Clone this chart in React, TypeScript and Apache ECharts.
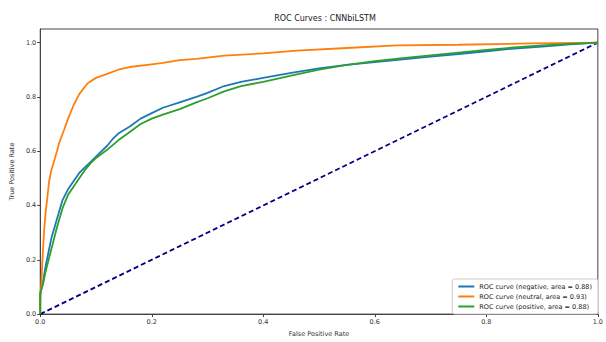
import React, { useEffect, useRef } from "react";
import * as echarts from "echarts";

const title = "ROC Curves : CNNbiLSTM";
const xName = "False Positive Rate";
const yName = "True Positive Rate";
const tickValues = [0, 0.2, 0.4, 0.6, 0.8, 1.0];

const seriesNames = [
  "ROC curve (negative, area = 0.88)",
  "ROC curve (neutral, area = 0.93)",
  "ROC curve (positive, area = 0.88)",
];

const negativeRoc: number[][] = [
  [0, 0], [0, 0.07], [0.005, 0.12], [0.01, 0.18], [0.015, 0.23], [0.02, 0.28], [0.03, 0.35],
  [0.04, 0.42], [0.05, 0.46], [0.06, 0.49], [0.07, 0.52], [0.08, 0.54], [0.09, 0.56], [0.1, 0.58],
  [0.11, 0.6], [0.12, 0.62], [0.13, 0.645], [0.14, 0.665], [0.16, 0.69], [0.18, 0.72], [0.2, 0.74],
  [0.22, 0.76], [0.25, 0.78], [0.28, 0.8], [0.3, 0.815], [0.33, 0.84], [0.36, 0.855], [0.4, 0.87],
  [0.45, 0.888], [0.5, 0.905], [0.55, 0.918], [0.6, 0.928], [0.65, 0.938], [0.7, 0.948], [0.75, 0.958],
  [0.8, 0.968], [0.85, 0.978], [0.9, 0.985], [0.95, 0.993], [1, 1],
];

const neutralRoc: number[][] = [
  [0, 0], [0, 0.05], [0.002, 0.11], [0.004, 0.2], [0.007, 0.31], [0.01, 0.38], [0.016, 0.49],
  [0.02, 0.53], [0.03, 0.6], [0.034, 0.63], [0.043, 0.68], [0.05, 0.72], [0.06, 0.77], [0.07, 0.81],
  [0.085, 0.85], [0.1, 0.87], [0.12, 0.885], [0.14, 0.9], [0.16, 0.91], [0.2, 0.92], [0.22, 0.925],
  [0.25, 0.935], [0.28, 0.94], [0.33, 0.952], [0.4, 0.96], [0.46, 0.97], [0.55, 0.98], [0.64, 0.99],
  [0.75, 0.992], [0.88, 0.997], [1, 1],
];

const positiveRoc: number[][] = [
  [0, 0], [0, 0.08], [0.005, 0.11], [0.01, 0.16], [0.02, 0.24], [0.03, 0.32], [0.04, 0.39],
  [0.05, 0.44], [0.06, 0.47], [0.07, 0.5], [0.08, 0.53], [0.09, 0.555], [0.1, 0.575], [0.12, 0.605],
  [0.14, 0.64], [0.16, 0.67], [0.18, 0.7], [0.2, 0.72], [0.22, 0.735], [0.25, 0.755], [0.28, 0.78],
  [0.3, 0.795], [0.33, 0.82], [0.36, 0.84], [0.4, 0.855], [0.45, 0.878], [0.5, 0.9], [0.55, 0.918],
  [0.6, 0.932], [0.65, 0.943], [0.7, 0.953], [0.75, 0.963], [0.8, 0.973], [0.85, 0.982], [0.9, 0.99],
  [0.95, 0.995], [1, 1],
];

const diagonal: number[][] = [[0, 0], [1, 1]];

const colors = ["#1f77b4", "#ff7f0e", "#2ca02c"];

export default function App() {
  const ref = useRef<HTMLDivElement>(null);
  useEffect(() => {
    if (!ref.current) return;
    const chart = echarts.init(ref.current, undefined, { renderer: "svg" });
    const font = "DejaVu Sans";
    const axisCommon = {
      axisLine: { show: true, lineStyle: { color: "#444", width: 1 } },
      axisTick: { show: true, customValues: tickValues, length: 3, lineStyle: { color: "#444" } },
      axisLabel: {
        customValues: tickValues,
        fontSize: 6.5,
        color: "#333",
        fontFamily: font,
        formatter: (v: number) => v.toFixed(1),
      },
      splitLine: { show: false },
    };
    const mk = (name: string, data: number[][], color: string) => ({
      name,
      type: "line",
      data,
      showSymbol: false,
      symbol: "none",
      lineStyle: { color, width: 1.8 },
      itemStyle: { color },
      z: 3,
    });
    chart.setOption({
      animation: false,
      backgroundColor: "#fff",
      title: {
        text: title,
        left: 320,
        textAlign: "center",
        top: 9,
        textStyle: { fontSize: 8, fontWeight: "normal", color: "#222", fontFamily: font },
      },
      grid: {
        left: 39,
        right: 5,
        top: 29,
        bottom: 22,
        show: true,
        borderColor: "#444",
        borderWidth: 1,
        backgroundColor: "transparent",
      },
      xAxis: {
        type: "value",
        min: 0,
        max: 1,
        interval: 0.2,
        name: xName,
        nameLocation: "middle",
        nameGap: 13,
        nameTextStyle: { fontSize: 6.5, color: "#333", fontFamily: font },
        ...axisCommon,
        axisLabel: { ...axisCommon.axisLabel, margin: 4 },
      },
      yAxis: {
        type: "value",
        min: 0,
        max: 1.05,
        interval: 0.2,
        name: yName,
        nameLocation: "middle",
        nameGap: 24,
        nameTextStyle: { fontSize: 6.5, color: "#333", fontFamily: font },
        ...axisCommon,
        axisLabel: { ...axisCommon.axisLabel, margin: 4 },
      },
      legend: {
        data: seriesNames,
        orient: "vertical",
        right: 8,
        bottom: 28,
        itemWidth: 16,
        itemHeight: 2,
        itemGap: 3,
        icon: "rect",
        padding: [4, 6, 4, 6],
        borderColor: "#ccc",
        borderWidth: 1,
        borderRadius: 2,
        backgroundColor: "#fff",
        textStyle: { fontSize: 6.5, color: "#222", fontFamily: font },
      },
      series: [
        mk(seriesNames[0], negativeRoc, colors[0]),
        mk(seriesNames[1], neutralRoc, colors[1]),
        mk(seriesNames[2], positiveRoc, colors[2]),
        {
          name: "chance",
          type: "line",
          data: diagonal,
          showSymbol: false,
          symbol: "none",
          lineStyle: { color: "#000080", width: 1.8, type: [5, 3] },
          z: 2,
        },
      ],
    });
    return () => chart.dispose();
  }, []);
  return <div ref={ref} style={{ width: 606, height: 342, position: "absolute", left: 0, top: 0 }} />;
}
